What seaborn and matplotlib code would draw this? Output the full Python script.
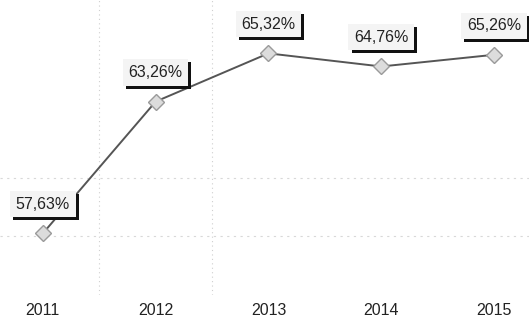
"""Line chart of yearly share, scanned-report style."""
import matplotlib
matplotlib.use('Agg')
import matplotlib.pyplot as plt
import matplotlib.patheffects as pe
import seaborn as sns

years = ['2011', '2012', '2013', '2014', '2015']
values = [57.63, 63.26, 65.32, 64.76, 65.26]
labels = ['57,63%', '63,26%', '65,32%', '64,76%', '65,26%']

sns.set_style('white')
plt.rcParams['font.family'] = ['Liberation Sans', 'DejaVu Sans']

fig = plt.figure(figsize=(5.29, 3.22), dpi=100)
ax = fig.add_axes([0, 0.084, 1, 0.916])

# the line with diamond markers
sns.lineplot(x=list(range(len(years))), y=values, ax=ax, color='#555555',
             linewidth=1.4, marker='D', markersize=8,
             markerfacecolor='#dcdcdc', markeredgecolor='#9a9a9a',
             markeredgewidth=1.0, zorder=3)

# faint dotted grid from the scan
for xv in [0.5, 1.5]:
    ax.axvline(xv, color='#cfcfcf', linewidth=0.8, linestyle=(0, (1, 3)), zorder=0)
for yv in [57.5, 60]:
    ax.axhline(yv, color='#d8d8d8', linewidth=0.8, linestyle=(0, (2, 4)), zorder=0)

# value labels in boxes with a drop shadow
for i, (v, lbl) in enumerate(zip(values, labels)):
    t = ax.annotate(lbl, (i, v), xytext=(0, 21), textcoords='offset points',
                    ha='center', va='center', fontsize=11.5, color='#222222',
                    bbox=dict(boxstyle='square,pad=0.35', facecolor='#f4f4f4',
                              edgecolor='none'), zorder=5)
    t.get_bbox_patch().set_path_effects([
        pe.SimplePatchShadow(offset=(2.2, -2.2), shadow_rgbFace='#111111', alpha=1.0),
        pe.Normal()])

ax.set_xlim(-0.38, 4.31)
ax.set_ylim(55.0, 67.6)
ax.set_xticks(range(len(years)))
ax.set_xticklabels(years, fontsize=11.5, color='#222222')
ax.set_yticks([])
ax.tick_params(axis='x', length=0, pad=6)
sns.despine(ax=ax, left=True, bottom=True)

fig.savefig('out.png', dpi=100)
